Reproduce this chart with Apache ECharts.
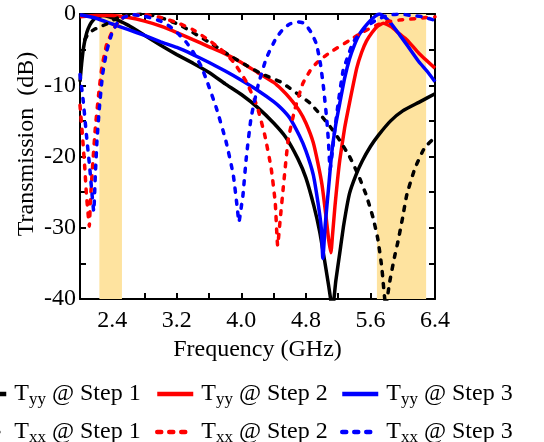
<!DOCTYPE html>
<html><head><meta charset="utf-8">
<script src="https://cdn.jsdelivr.net/npm/echarts@6/dist/echarts.min.js"></script>
<style>html,body{margin:0;padding:0;background:#fff}#c{width:544px;height:442px}</style>
</head><body><div id="c"></div>
<script>
// [frequency GHz, transmission dB]
const tyyStep1 = [[2.0,-9.5],[2.02,-7],[2.04,-5],[2.07,-3.2],[2.1,-2.1],[2.14,-1.2],[2.2,-0.5],[2.28,-0.2],[2.36,-0.4],[2.45,-0.8],[2.6,-1.6],[2.8,-3.0],[3.0,-4.4],[3.2,-5.7],[3.4,-6.9],[3.6,-8.2],[3.8,-9.8],[4.0,-11.3],[4.2,-13.1],[4.4,-15.3],[4.55,-17.3],[4.7,-20.3],[4.8,-23],[4.9,-27],[4.97,-30.5],[5.03,-34.5],[5.08,-38],[5.13,-41.5],[5.17,-37.5],[5.22,-33.5],[5.27,-29.5],[5.34,-25.2],[5.42,-22.6],[5.5,-20.6],[5.6,-18.6],[5.7,-17.0],[5.85,-15.0],[6.0,-13.6],[6.2,-12.4],[6.4,-11.2]];
const tyyStep2 = [[2.0,-0.4],[2.2,-0.2],[2.4,-0.2],[2.6,-0.5],[2.8,-1.0],[3.0,-1.7],[3.2,-2.6],[3.4,-3.6],[3.6,-4.6],[3.8,-5.6],[4.0,-6.8],[4.2,-8.2],[4.4,-9.6],[4.5,-10.6],[4.6,-11.8],[4.72,-13.6],[4.8,-15.3],[4.89,-18],[4.95,-21],[5.0,-24],[5.05,-28.5],[5.08,-31.5],[5.11,-33.5],[5.13,-31],[5.16,-27],[5.19,-23.5],[5.22,-20.5],[5.28,-16],[5.34,-12.5],[5.43,-7.6],[5.49,-5.4],[5.55,-3.8],[5.62,-2.6],[5.68,-1.8],[5.76,-1.3],[5.86,-1.8],[5.96,-2.8],[6.05,-3.6],[6.2,-5.5],[6.4,-7.6]];
const tyyStep3 = [[2.0,-0.1],[2.2,-0.6],[2.4,-1.4],[2.6,-2.2],[2.8,-3.0],[3.0,-3.9],[3.2,-4.7],[3.4,-5.7],[3.6,-6.8],[3.8,-8.0],[4.0,-9.3],[4.2,-10.7],[4.4,-12.3],[4.5,-13.3],[4.6,-14.6],[4.72,-17.1],[4.8,-19.2],[4.89,-22.5],[4.95,-26.5],[4.99,-30],[5.01,-34.3],[5.04,-29.5],[5.08,-24.5],[5.12,-19.5],[5.17,-15.5],[5.22,-12.5],[5.28,-9],[5.34,-6.3],[5.4,-4.4],[5.46,-2.9],[5.53,-1.8],[5.6,-0.9],[5.66,-0.3],[5.71,0],[5.76,-0.3],[5.84,-1.1],[5.96,-2.9],[6.05,-4.3],[6.2,-6.7],[6.3,-8.0],[6.4,-9.5]];
const txxStep1 = [[2.06,-3.6],[2.1,-2.8],[2.17,-2.2],[2.25,-1.8],[2.33,-1.4],[2.42,-0.8],[2.5,-0.4],[2.6,-0.15],[2.75,-0.05],[2.9,-0.2],[3.05,-0.7],[3.23,-1.5],[3.4,-2.6],[3.65,-4.3],[3.85,-5.8],[4.06,-7.2],[4.25,-8.4],[4.48,-9.5],[4.6,-10.4],[4.72,-11.4],[4.85,-12.5],[4.97,-14],[5.1,-15.8],[5.2,-17.4],[5.34,-20],[5.45,-22.6],[5.55,-25.5],[5.63,-28.5],[5.69,-31.5],[5.74,-35.5],[5.79,-41],[5.84,-37.5],[5.9,-34],[5.94,-32],[6.0,-28.5],[6.05,-25.4],[6.15,-21.7],[6.27,-18.8],[6.4,-17.3]];
const txxStep2 = [[2.0,-12.8],[2.03,-17],[2.06,-21.7],[2.08,-25.4],[2.1,-28],[2.115,-29.8],[2.13,-26],[2.16,-20.7],[2.19,-16],[2.23,-11.4],[2.27,-7.6],[2.33,-4.3],[2.42,-2],[2.52,-0.6],[2.62,-0.15],[2.8,-0.1],[3.0,-0.5],[3.2,-1.2],[3.4,-2.2],[3.6,-3.7],[3.75,-5.0],[3.9,-6.7],[4.06,-9.5],[4.19,-12.8],[4.29,-17],[4.37,-21.7],[4.42,-26.5],[4.45,-32.5],[4.48,-29],[4.52,-24.3],[4.58,-17.7],[4.66,-13.5],[4.76,-9.8],[4.85,-8.0],[4.93,-6.9],[5.05,-5.8],[5.14,-5.1],[5.34,-3.7],[5.51,-2.5],[5.67,-1.6],[5.8,-1.1],[5.96,-0.85],[6.2,-0.6],[6.4,-0.4]];
const txxStep3 = [[2.0,-8.5],[2.04,-12.2],[2.08,-17],[2.12,-21.5],[2.15,-25.4],[2.17,-27.7],[2.19,-22.6],[2.21,-17.9],[2.24,-13.2],[2.28,-8.5],[2.33,-5.3],[2.39,-2.9],[2.46,-1.3],[2.54,-0.5],[2.65,-0.1],[2.8,-0.3],[3.0,-1.0],[3.12,-1.8],[3.23,-2.9],[3.32,-4.0],[3.4,-5.3],[3.5,-7.3],[3.57,-9.3],[3.69,-13.2],[3.81,-17.9],[3.9,-22.6],[3.95,-27.3],[3.97,-29.2],[4.0,-27],[4.02,-25.4],[4.06,-20.3],[4.12,-14.6],[4.21,-9.9],[4.31,-6.2],[4.43,-3.4],[4.52,-2.1],[4.6,-1.4],[4.7,-1.1],[4.78,-1.3],[4.86,-2.5],[4.93,-4.2],[4.98,-7],[5.02,-10.5],[5.06,-15],[5.08,-18],[5.1,-21.8],[5.15,-17],[5.2,-12.5],[5.26,-8.0],[5.3,-6.6],[5.38,-4.1],[5.46,-2.8],[5.55,-1.8],[5.65,-1.0],[5.76,-0.4],[5.86,-0.1],[5.96,0],[6.1,-0.2],[6.25,-0.4],[6.4,-0.9]];
const bands = [[2.24, 2.52], [5.68, 6.29]];
const xLabels = ['2.4','3.2','4.0','4.8','5.6','6.4'];
const seriesNames = ['Tyy @ Step 1','Tyy @ Step 2','Tyy @ Step 3','Txx @ Step 1','Txx @ Step 2','Txx @ Step 3'];

const FONT = 'Liberation Serif';
const colors = ['#000000','#ff0000','#0000ff','#000000','#ff0000','#0000ff'];
const dataSets = [tyyStep1, tyyStep2, tyyStep3, txxStep1, txxStep2, txxStep3];
const dash = [4, 8];

const series = dataSets.map((d, i) => ({
  name: seriesNames[i],
  type: 'line',
  data: d,
  symbol: 'none',
  smooth: 0.15,
  clip: true,
  lineStyle: { color: colors[i], width: 3.5, type: i >= 3 ? dash : 'solid', cap: i >= 3 ? 'round' : 'butt' },
  itemStyle: { color: colors[i] },
  z: i >= 3 ? 3 : 2
}));
series[0].markArea = {
  silent: true,
  itemStyle: { color: '#FEE39F' },
  data: bands.map(b => [{ xAxis: b[0] }, { xAxis: b[1] }])
};

const colX = [-32, 155, 340];
const rowY = [382, 420];
const legends = seriesNames.map((n, i) => ({
  data: [n],
  left: colX[i % 3],
  top: rowY[Math.floor(i / 3)],
  padding: 0,
  itemWidth: 36,
  itemHeight: 14,
  selectedMode: false,
  itemStyle: { opacity: 0 },
  lineStyle: { width: 4.5 },
  formatter: name => {
    const sub = name.slice(1, 3);
    const rest = name.slice(3);
    return '{a|T}{s|' + sub + '}{t|' + rest + '}';
  },
  textStyle: {
    fontFamily: FONT, fontSize: 24, color: '#000',
    rich: {
      a: { fontFamily: FONT, fontSize: 24, color: '#000', padding: [0, 0, 0, 3] },
      s: { fontFamily: FONT, fontSize: 17, color: '#000', padding: [11, 0, 0, 0] },
      t: { fontFamily: FONT, fontSize: 24, color: '#000' }
    }
  }
}));

const axisLine = { show: true, onZero: false, lineStyle: { color: '#000', width: 2 } };
const axisTick = { show: true, inside: true, length: 6, lineStyle: { color: '#000', width: 2 } };
const isLabel = v => xLabels.indexOf(v.toFixed(1)) >= 0;

const option = {
  animation: false,
  backgroundColor: '#fff',
  grid: { left: 80, right: 109, top: 14, bottom: 143 },
  legend: legends,
  xAxis: [{
    type: 'value', min: 2.0, max: 6.4, interval: 0.4,
    axisLine, axisTick, splitLine: { show: false },
    axisLabel: { formatter: v => isLabel(v) ? v.toFixed(1) : '', fontFamily: FONT, fontSize: 24, color: '#000', margin: 10, showMinLabel: true, showMaxLabel: true },
    name: 'Frequency (GHz)', nameLocation: 'middle', nameGap: 38,
    nameTextStyle: { fontFamily: FONT, fontSize: 24, color: '#000' }
  }, {
    type: 'value', position: 'top', min: 2.0, max: 6.4, interval: 0.4,
    axisLine, axisTick, axisLabel: { show: false }, splitLine: { show: false }
  }],
  yAxis: [{
    type: 'value', min: -40, max: 0, interval: 5,
    axisLine, axisTick, splitLine: { show: false },
    axisLabel: { formatter: v => (v % 10 === 0 ? String(v) : ''), fontFamily: FONT, fontSize: 24, color: '#000', margin: 4 }
  }, {
    type: 'value', position: 'right', min: -40, max: 0, interval: 5,
    axisLine, axisTick, axisLabel: { show: false }, splitLine: { show: false }
  }],
  graphic: [{
    type: 'text', x: 27, y: 144, rotation: Math.PI / 2,
    style: { text: 'Transmission  (dB)', fontFamily: FONT, fontSize: 24, fill: '#000', align: 'center', verticalAlign: 'middle' }
  }],
  series
};
const chart = echarts.init(document.getElementById('c'), null, { renderer: 'canvas' });
chart.setOption(option);
</script>
</body></html>
